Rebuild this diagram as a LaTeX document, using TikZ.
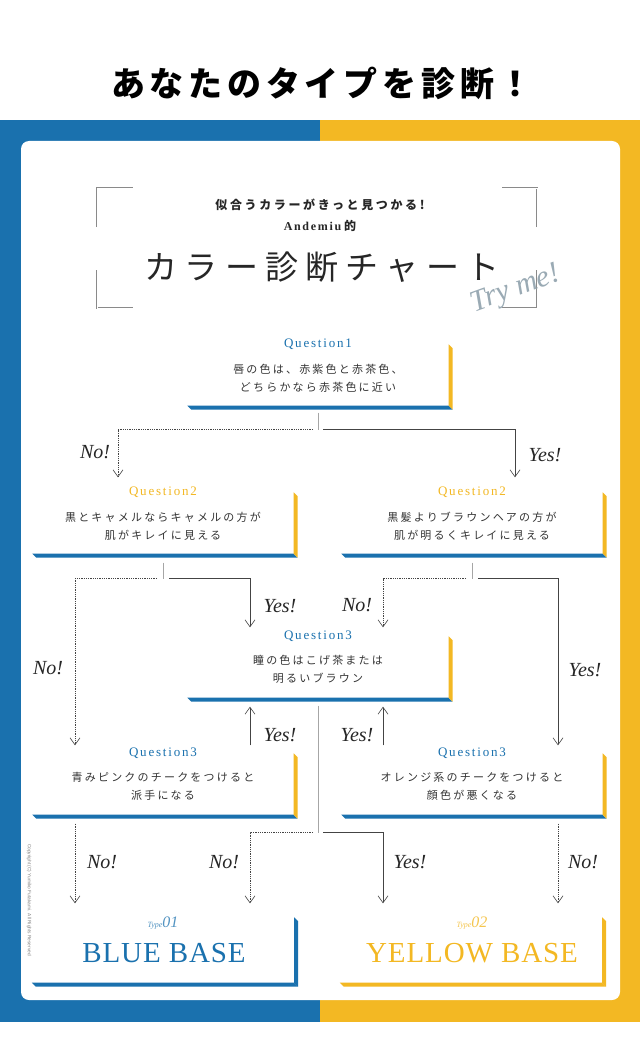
\documentclass[tikz,border=0pt]{standalone}
\usepackage{fontspec}
\setmainfont{Liberation Serif}
\newfontfamily\jp{Noto Sans CJK JP}
\newfontfamily\jpspaced[LetterSpace=20]{Noto Sans CJK JP}
\newfontfamily\jpwide[LetterSpace=22]{Noto Sans CJK JP}
\newfontfamily\jptitle[LetterSpace=14]{Noto Sans CJK JP}
\newfontfamily\serifspaced[LetterSpace=14]{Liberation Serif}
\newfontfamily\serifbase[LetterSpace=3]{Liberation Serif}
\newfontfamily\smallsans{Liberation Sans}
\usetikzlibrary{positioning, arrows.meta}

\definecolor{bluebase}{HTML}{1A71AE}
\definecolor{yellowbase}{HTML}{F3B823}
\definecolor{inkgray}{HTML}{444444}
\definecolor{trygray}{HTML}{9AAAB4}
\definecolor{cornergray}{HTML}{8A8A8A}

\tikzset{
	yes/.style={
		draw=inkgray,
		line width=0.6pt,
		-{Straight Barb[length=7pt,width=10pt]}
	},
	no/.style={
		yes,
		dash pattern=on 0.8pt off 1pt
	},
	stub/.style={draw=gray!70, line width=0.8pt},
	cornerline/.style={draw=cornergray, line width=2.2pt},
	cornerfill/.style={draw=white, line width=1pt},
	qbox/.style={rectangle, fill=white, minimum width=261pt, minimum height=61pt, inner sep=0pt},
	rbox/.style={qbox, minimum width=262pt, minimum height=65pt},
	qlab/.style={font=\serifspaced\fontsize{13}{13}\selectfont},
	qtext/.style={align=center, text=black!80, font=\jpspaced\fontsize{11}{18}\selectfont},
	answer/.style={text=black!85, font=\itshape\fontsize{20}{20}\selectfont},
}

% bottom and side faces of a box
\newcommand{\extrude}[3]{%
	\fill[#3] (#1.south west) -- (#1.south east) -- ([shift={(4,4)}]#1.south east) -- ([shift={(4,4)}]#1.south west) -- cycle;
	\fill[#2] (#1.north east) -- ([shift={(4,4)}]#1.north east) -- ([shift={(4,4)}]#1.south east) -- (#1.south east) -- cycle;
}

\begin{document}
\begin{tikzpicture}[x=1pt, y=-1pt]

\useasboundingbox (0,0) rectangle (640,1051);

% Background
\fill[white] (0,0) rectangle (640,1051);
\fill[bluebase] (0,120) rectangle (320,1022);
\fill[yellowbase] (320,120) rectangle (640,1022);
\fill[white, rounded corners=8pt] (21,141) rectangle (620,1000);

% Title
\node[font=\jptitle\bfseries\fontsize{34}{36}\selectfont] (Title) at (322,83) {あなたのタイプを診断！};

% Header corners
\foreach \cx/\cy/\ex/\ey in {97/227/133/188, 97/270/133/308, 537/227/502/188, 537/270/502/308}{
	\draw[cornerline] (\cx,\cy) |- (\ex,\ey);
	\draw[cornerfill] (\cx,\cy) |- (\ex,\ey);
}

\node[text=black!85, font=\jpwide\bfseries\fontsize{12}{13}\selectfont] (Catch) at (320,205) {似合うカラーがきっと見つかる!};
\node[below = 2pt of Catch, text=black!85, font=\bfseries\fontsize{12}{13}\selectfont] (Brand) {{\serifspaced Andemiu} {\jp 的}};
\node[text=black!85, font=\jpwide\fontsize{33}{35}\selectfont] (Chart) at (322,267) {カラー診断チャート};
\node[rotate=20, text=trygray, font=\itshape\fontsize{30}{30}\selectfont] (Try) at (516,290) {Try me!};

% Copyright
\node[rotate=-90, text=gray, font=\smallsans\fontsize{4.8}{5}\selectfont] (Copy) at (29,900) {Copyright (C) Yumiko Futakami. All Rights Reserved};

% Question 1
\node[qbox] (Q1) at (318,375) {};
\extrude{Q1}{yellowbase}{bluebase}
\node[qlab, text=bluebase] (Q1L) at (Q1.north) {Question1};
\node[qtext] (Q1T) at ([yshift=-3pt]Q1.center) {唇の色は、赤紫色と赤茶色、\\どちらかなら赤茶色に近い};

% Question 2
\node[qbox] (Q2a) at (163,523) {};
\extrude{Q2a}{yellowbase}{bluebase}
\node[qlab, text=yellowbase] (Q2aL) at (Q2a.north) {Question2};
\node[qtext] (Q2aT) at ([yshift=-3pt]Q2a.center) {黒とキャメルならキャメルの方が\\肌がキレイに見える};

\node[qbox] (Q2b) at (472,523) {};
\extrude{Q2b}{yellowbase}{bluebase}
\node[qlab, text=yellowbase] (Q2bL) at (Q2b.north) {Question2};
\node[qtext] (Q2bT) at ([yshift=-3pt]Q2b.center) {黒髪よりブラウンヘアの方が\\肌が明るくキレイに見える};

% Question 3
\node[qbox] (Q3c) at (318,667) {};
\extrude{Q3c}{yellowbase}{bluebase}
\node[qlab, text=bluebase] (Q3cL) at (Q3c.north) {Question3};
\node[qtext] (Q3cT) at ([yshift=-2pt]Q3c.center) {瞳の色はこげ茶または\\明るいブラウン};

\node[qbox] (Q3a) at (163,784) {};
\extrude{Q3a}{yellowbase}{bluebase}
\node[qlab, text=bluebase] (Q3aL) at (Q3a.north) {Question3};
\node[qtext] (Q3aT) at ([yshift=-2pt]Q3a.center) {青みピンクのチークをつけると\\派手になる};

\node[qbox] (Q3b) at (472,784) {};
\extrude{Q3b}{yellowbase}{bluebase}
\node[qlab, text=bluebase] (Q3bL) at (Q3b.north) {Question3};
\node[qtext] (Q3bT) at ([yshift=-2pt]Q3b.center) {オレンジ系のチークをつけると\\顔色が悪くなる};

% Results
\node[rbox] (Blue) at (163,950) {};
\extrude{Blue}{bluebase}{bluebase}
\node[text=bluebase!75, font=\itshape] (BlueType) at (163,923) {{\fontsize{8}{8}\selectfont Type}{\fontsize{16}{16}\selectfont 01}};
\node[text=bluebase, font=\serifbase\fontsize{29}{30}\selectfont] (BlueT) at (164,953) {BLUE BASE};

\node[rbox] (Yellow) at (471,950) {};
\extrude{Yellow}{yellowbase}{yellowbase}
\node[text=yellowbase!80, font=\itshape] (YellowType) at (472,923) {{\fontsize{8}{8}\selectfont Type}{\fontsize{16}{16}\selectfont 02}};
\node[text=yellowbase, font=\serifbase\fontsize{29}{30}\selectfont] (YellowT) at (472,953) {YELLOW BASE};

% Arrows from Question 1
\coordinate (S1) at ([yshift=-24pt]Q1.south);
\draw[stub] ([yshift=-7pt]Q1.south) -- (S1);
\draw[no] ([xshift=-5pt]S1) -| ([xshift=-45pt,yshift=15pt]Q2a.north);
\draw[yes] ([xshift=5pt]S1) -| ([xshift=43pt,yshift=15pt]Q2b.north);
\node[answer] (No1) at (95,452) {No!};
\node[answer] (Yes1) at (545,455) {Yes!};

% Arrows from Question 2
\coordinate (S2a) at ([yshift=-25pt]Q2a.south);
\draw[stub] ([yshift=-9pt]Q2a.south) -- (S2a);
\draw[no] ([xshift=-6pt]S2a) -| ([xshift=-88pt,yshift=8pt]Q3a.north);
\draw[yes] ([xshift=6pt]S2a) -| ([xshift=-68pt,yshift=9pt]Q3c.north);
\node[answer] (No2a) at (48,668) {No!};
\node[answer] (Yes2a) at (280,606) {Yes!};

\coordinate (S2b) at ([yshift=-25pt]Q2b.south);
\draw[stub] ([yshift=-9pt]Q2b.south) -- (S2b);
\draw[no] ([xshift=-6pt]S2b) -| ([xshift=65pt,yshift=9pt]Q3c.north);
\draw[yes] ([xshift=6pt]S2b) -| ([xshift=86pt,yshift=8pt]Q3b.north);
\node[answer] (No2b) at (357,605) {No!};
\node[answer] (Yes2b) at (585,670) {Yes!};

% Arrows from Question 3
\draw[yes] ([xshift=87pt,yshift=8pt]Q3a.north) -- ([xshift=-68pt,yshift=-9pt]Q3c.south);
\draw[yes] ([xshift=-89pt,yshift=8pt]Q3b.north) -- ([xshift=65pt,yshift=-9pt]Q3c.south);
\node[answer] (Yes3a) at (280,735) {Yes!};
\node[answer] (Yes3b) at (357,735) {Yes!};

\coordinate (S3c) at ([yshift=-135pt]Q3c.south);
\draw[stub] ([yshift=-8pt]Q3c.south) -- (S3c);
\draw[no] ([xshift=-5pt]S3c) -| ([xshift=87pt,yshift=14pt]Blue.north);
\draw[yes] ([xshift=5pt]S3c) -| ([xshift=-88pt,yshift=14pt]Yellow.north);
\node[answer] (No3c) at (224,862) {No!};
\node[answer] (Yes3c) at (410,862) {Yes!};

\draw[no] ([xshift=-88pt,yshift=-9pt]Q3a.south) -- ([xshift=-88pt,yshift=14pt]Blue.north);
\draw[no] ([xshift=86pt,yshift=-9pt]Q3b.south) -- ([xshift=87pt,yshift=14pt]Yellow.north);
\node[answer] (No3a) at (102,862) {No!};
\node[answer] (No3b) at (583,862) {No!};

\end{tikzpicture}
\end{document}
